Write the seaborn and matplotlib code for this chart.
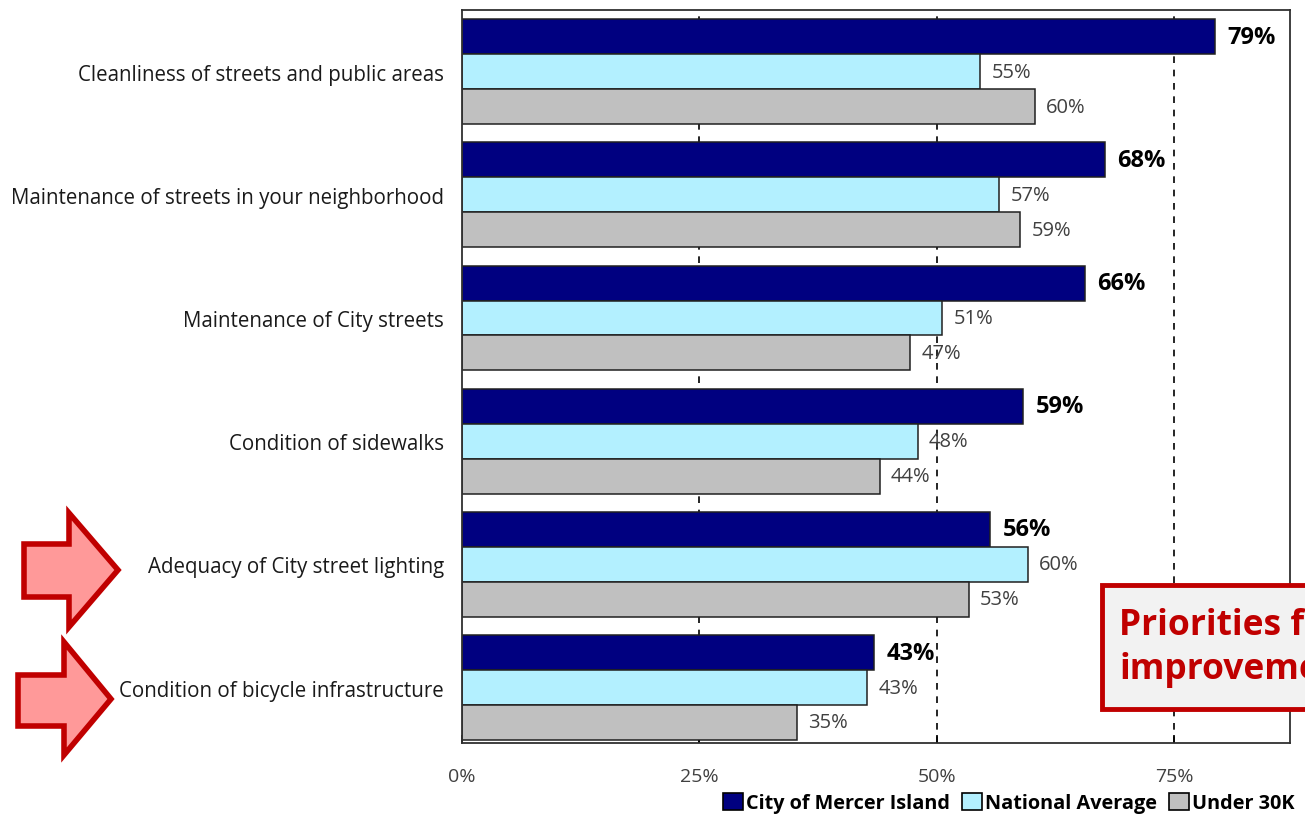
import pandas as pd
import numpy as np
import matplotlib.pyplot as plt
import matplotlib.patches as mpatches
import seaborn as sns

# Datos (porcentajes)
ITEMS = ['Cleanliness of streets and public areas',
         'Maintenance of streets in your neighborhood',
         'Maintenance of City streets',
         'Condition of sidewalks',
         'Adequacy of City street lighting',
         'Condition of bicycle infrastructure']
SERIES = ['City of Mercer Island', 'National Average', 'Under 30K']
MERCER = [79.3, 67.7, 65.6, 59.1, 55.6, 43.4]
NATIONAL = [54.6, 56.6, 50.6, 48.0, 59.6, 42.7]
UNDER30K = [60.3, 58.8, 47.2, 44.0, 53.4, 35.3]
XTICKS = [0, 25, 50, 75]

COLORS = {'City of Mercer Island': '#000080',
          'National Average': '#B3F0FF',
          'Under 30K': '#C0C0C0'}
FONT = 'Open Sans'

df = pd.concat([
    pd.DataFrame({'item': ITEMS, 'value': vals, 'series': s})
    for s, vals in zip(SERIES, [MERCER, NATIONAL, UNDER30K])
])

plt.rcParams['font.family'] = [FONT, 'DejaVu Sans']

W, H = 1305, 820
fig = plt.figure(figsize=(W / 100, H / 100), dpi=100)
ax = fig.add_axes([462 / W, 1 - 744 / H, 828 / W, 733 / H])

for x in XTICKS[1:]:
    ax.axvline(x, color='black', linestyle=(0, (4, 4)), linewidth=1.2, zorder=0)

sns.barplot(data=df, y='item', x='value', hue='series', hue_order=SERIES,
            palette=COLORS, orient='h', width=0.85, edgecolor='#202020',
            linewidth=1.1, saturation=1, ax=ax, zorder=2)

for i, cont in enumerate(ax.containers):
    labs = [f'{b.get_width():.0f}%' for b in cont]
    if i == 0:
        ax.bar_label(cont, labels=labs, padding=9, fontsize=17,
                     fontweight='bold', color='black')
    else:
        ax.bar_label(cont, labels=labs, padding=8, fontsize=14.5, color='#404040')

ax.set_xlim(0, 87.2)
ax.set_ylim(5.45, -0.5)
ax.set_xticks(XTICKS)
ax.set_xticklabels([f'{t}%' for t in XTICKS], fontsize=14, color='#404040')
ax.tick_params(axis='x', direction='in', length=6, width=1.2, pad=17)
ax.tick_params(axis='y', length=0, pad=13, labelsize=14.8, labelcolor='#1a1a1a')
ax.set_xlabel('')
ax.set_ylabel('')
for sp in ax.spines.values():
    sp.set_linewidth(1.3)
    sp.set_color('#303030')

# Leyenda
ax.get_legend().remove()
handles = [mpatches.Patch(facecolor=COLORS[s], edgecolor='black', linewidth=1.2)
           for s in SERIES]
fig.legend(handles, SERIES, loc='lower right', bbox_to_anchor=(1.004, -0.012),
           ncol=3, frameon=False, handlelength=1.0, handleheight=0.95,
           handletextpad=0.15, columnspacing=0.6, borderpad=0.3,
           prop={'family': FONT, 'weight': 'bold', 'size': 14.3})

# Flechas de prioridad
def arrow(x0, xb, xt, ytop, ytip, ybot, s0, s1):
    pts = [(x0, s0), (xb, s0), (xb, ytop), (xt, ytip), (xb, ybot), (xb, s1), (x0, s1)]
    pts = [(px / W, 1 - py / H) for px, py in pts]
    fig.patches.append(mpatches.Polygon(pts, closed=True, transform=fig.transFigure,
                                        facecolor='#FF9999', edgecolor='#C00000',
                                        linewidth=4, joinstyle='miter'))

arrow(24, 69, 118, 514, 571, 628, 545, 598)
arrow(18, 64, 111, 643, 700, 756, 676, 727)

# Recuadro de prioridades
fig.patches.append(mpatches.Rectangle((1102 / W, 1 - 710 / H), 0.3, 124 / H,
                                      transform=fig.transFigure, facecolor='#F2F2F2',
                                      edgecolor='#C00000', linewidth=3.5))
fig.text(1119 / W, 1 - 648 / H, 'Priorities for\nimprovement', color='#C00000',
         fontsize=25.5, fontweight='bold', family=FONT, linespacing=1.3, va='center')

fig.savefig('out.png', dpi=100)
